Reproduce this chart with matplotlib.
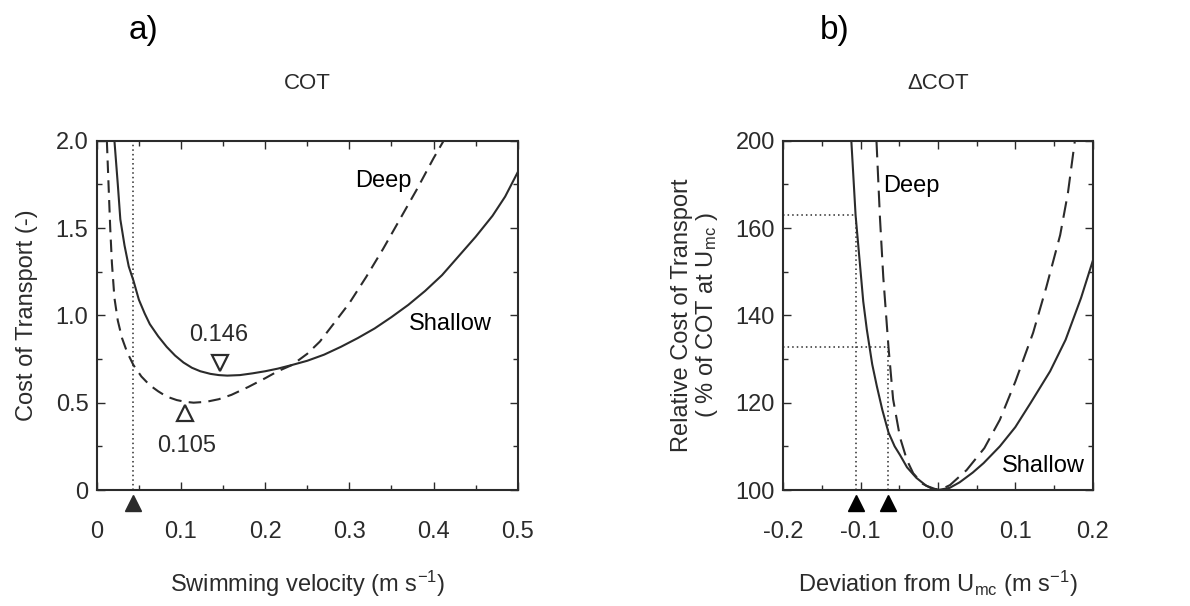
import numpy as np
import matplotlib.pyplot as plt
from matplotlib.ticker import MultipleLocator, FixedLocator

plt.rcParams['font.family'] = ['Liberation Sans', 'DejaVu Sans']
plt.rcParams['mathtext.default'] = 'regular'

INK = "#2b2b2b"

# ---------------- panel a) COT vs swimming velocity ----------------
u_shallow = [0.021, 0.025, 0.028, 0.033, 0.038, 0.0435, 0.05, 0.057, 0.063, 0.073,
             0.083, 0.093, 0.103, 0.113, 0.123, 0.135, 0.145, 0.155, 0.17, 0.185,
             0.20, 0.215, 0.232, 0.25, 0.27, 0.29, 0.31, 0.33, 0.35, 0.37,
             0.39, 0.41, 0.43, 0.45, 0.47, 0.485, 0.5]
cot_shallow = [2.0, 1.75, 1.55, 1.40, 1.28, 1.20, 1.09, 1.01, 0.95, 0.88,
               0.82, 0.77, 0.73, 0.70, 0.68, 0.665, 0.658, 0.655, 0.658, 0.668,
               0.68, 0.695, 0.716, 0.74, 0.775, 0.82, 0.87, 0.925, 0.99, 1.06,
               1.14, 1.23, 1.34, 1.45, 1.57, 1.68, 1.82]

u_deep = [0.012, 0.014, 0.016, 0.018, 0.021, 0.025, 0.03, 0.036, 0.0435, 0.053,
          0.063, 0.073, 0.083, 0.095, 0.105, 0.115, 0.13, 0.145, 0.16, 0.18,
          0.2, 0.215, 0.232, 0.25, 0.265, 0.281, 0.30, 0.32, 0.34, 0.36,
          0.38, 0.40, 0.412]
cot_deep = [2.0, 1.75, 1.5, 1.30, 1.10, 0.97, 0.87, 0.79, 0.716, 0.65,
            0.60, 0.565, 0.535, 0.515, 0.505, 0.50, 0.505, 0.52, 0.545, 0.59,
            0.64, 0.68, 0.716, 0.78, 0.85, 0.95, 1.07, 1.22, 1.38, 1.55,
            1.72, 1.90, 2.0]

u_opt_shallow, cot_mark_shallow = 0.146, 0.73
u_opt_deep, cot_mark_deep = 0.105, 0.44
u_ref = 0.0435

a_xticks = [0, 0.1, 0.2, 0.3, 0.4, 0.5]
a_xticklabels = ['0', '0.1', '0.2', '0.3', '0.4', '0.5']
a_yticks = [0, 0.5, 1.0, 1.5, 2.0]
a_yticklabels = ['0', '0.5', '1.0', '1.5', '2.0']

# ---------------- panel b) relative COT vs deviation ----------------
d_shallow = [-0.112, -0.1065, -0.101, -0.0966, -0.092, -0.085, -0.079, -0.072, -0.064, -0.056,
             -0.049, -0.04, -0.028, -0.015, 0.0, 0.015, 0.028, 0.045, 0.059, 0.08,
             0.10, 0.12, 0.145, 0.165, 0.185, 0.2]
rel_shallow = [200, 178.7, 165, 154, 146, 136, 129.7, 123, 116.5, 112.5,
               110, 106.5, 103.5, 101.2, 100, 100.6, 102.2, 105, 107.7, 112.5,
               118, 125, 134, 143, 155, 165.5]

d_deep = [-0.0795, -0.075, -0.0707, -0.064, -0.058, -0.049, -0.04, -0.032, -0.02, -0.006,
          0.005, 0.0155, 0.037, 0.06, 0.08, 0.10, 0.123, 0.14, 0.158, 0.168, 0.177]
rel_deep = [200, 178, 161, 141, 126, 115, 108.5, 104.8, 101.8, 100.2,
            100.3, 101.4, 105.7, 112, 120.1, 131, 145, 158, 173, 185, 200]

d_ref = [-0.1065, -0.064]
rel_ref = [178.7, 141.0]

b_xticks = [-0.2, -0.1, 0.0, 0.1, 0.2]
b_xticklabels = ['-0.2', '-0.1', '0.0', '0.1', '0.2']
b_yticks = [100, 125, 150, 175, 200]
b_yticklabels = ['100', '120', '140', '160', '200']

FS = 17


def style_axes(ax):
    for s in ax.spines.values():
        s.set_linewidth(1.5)
        s.set_color(INK)
    ax.tick_params(which='both', direction='in', top=True, right=True, colors=INK,
                   labelsize=FS, width=1.0)
    ax.tick_params(which='major', length=6)
    ax.tick_params(which='minor', length=3.5)
    ax.tick_params(axis='x', pad=22)
    ax.tick_params(axis='y', pad=6)


fig = plt.figure(figsize=(11.9, 6.06), dpi=100)

# ---- a)
ax1 = fig.add_axes([0.0813, 0.1914, 0.3538, 0.5764])
ax1.plot(u_shallow, cot_shallow, color=INK, lw=1.5)
ax1.plot(u_deep, cot_deep, color=INK, lw=1.5, dashes=(6, 3.5))
ax1.axvline(u_ref, color=INK, lw=1.1, ls=(0, (1, 2)))
ax1.plot([u_opt_shallow], [cot_mark_shallow], marker='v', ms=11, mfc='white',
         mec=INK, mew=1.6, ls='none')
ax1.plot([u_opt_deep], [cot_mark_deep], marker='^', ms=11, mfc='white',
         mec=INK, mew=1.6, ls='none')
ax1.text(0.145, 0.89, '0.146', ha='center', va='center', fontsize=FS, color=INK)
ax1.text(0.107, 0.25, '0.105', ha='center', va='center', fontsize=FS, color=INK)
ax1.text(0.34, 1.77, 'Deep', ha='center', va='center', fontsize=FS, color='black')
ax1.text(0.42, 0.95, 'Shallow', ha='center', va='center', fontsize=FS, color='black')
ax1.plot([u_ref], [-0.037], marker='^', ms=12, color=INK, ls='none',
         transform=ax1.get_xaxis_transform(), clip_on=False)
ax1.set_xlim(0, 0.5)
ax1.set_ylim(0, 2.0)
ax1.set_xticks(a_xticks)
ax1.set_xticklabels(a_xticklabels)
ax1.set_yticks(a_yticks)
ax1.set_yticklabels(a_yticklabels)
ax1.xaxis.set_minor_locator(MultipleLocator(0.05))
ax1.yaxis.set_minor_locator(MultipleLocator(0.25))
style_axes(ax1)
ax1.set_ylabel('Cost of Transport (-)', fontsize=FS, color=INK)
ax1.yaxis.set_label_coords(-0.14, 0.5)
ax1.set_xlabel('Swimming velocity (m s$^{-1}$)', fontsize=FS, color=INK)
ax1.xaxis.set_label_coords(0.5, -0.225)
ax1.set_title('COT', fontsize=16, color=INK, y=1.125)
fig.text(143 / 1190, 1 - 31 / 606, 'a)', fontsize=24, ha='center', va='center', color='black')

# ---- b)
ax2 = fig.add_axes([0.6582, 0.1914, 0.2600, 0.5764])
ax2.plot(d_shallow, rel_shallow, color=INK, lw=1.5)
ax2.plot(d_deep, rel_deep, color=INK, lw=1.5, dashes=(8, 4))
for dx, ry in zip(d_ref, rel_ref):
    ax2.plot([-0.2, dx], [ry, ry], color=INK, lw=1.1, ls=(0, (1, 2)))
    ax2.plot([dx, dx], [100, ry], color=INK, lw=1.1, ls=(0, (1, 2)))
    ax2.plot([dx], [-0.037], marker='^', ms=12, color='black', ls='none',
             transform=ax2.get_xaxis_transform(), clip_on=False)
ax2.text(-0.034, 187, 'Deep', ha='center', va='center', fontsize=FS, color='black')
ax2.text(0.136, 107, 'Shallow', ha='center', va='center', fontsize=FS, color='black')
ax2.set_xlim(-0.2, 0.2)
ax2.set_ylim(100, 200)
ax2.set_xticks(b_xticks)
ax2.set_xticklabels(b_xticklabels)
ax2.xaxis.set_minor_locator(MultipleLocator(0.05))
ax2.set_yticks(b_yticks)
ax2.set_yticklabels(b_yticklabels)
ax2.yaxis.set_minor_locator(FixedLocator([112.5, 137.5, 162.5, 187.5]))
style_axes(ax2)
ax2.set_ylabel('Relative Cost of Transport\n( % of COT at U$_{mc}$ )', fontsize=FS,
               color=INK, linespacing=1.05)
ax2.yaxis.set_label_coords(-0.205, 0.5)
ax2.set_xlabel('Deviation from U$_{mc}$ (m s$^{-1}$)', fontsize=FS, color=INK)
ax2.xaxis.set_label_coords(0.5, -0.225)
ax2.set_title('\u0394COT', fontsize=16, color=INK, y=1.125)
fig.text(835 / 1190, 1 - 31 / 606, 'b)', fontsize=24, ha='center', va='center', color='black')

fig.savefig('out.png', dpi=100)
